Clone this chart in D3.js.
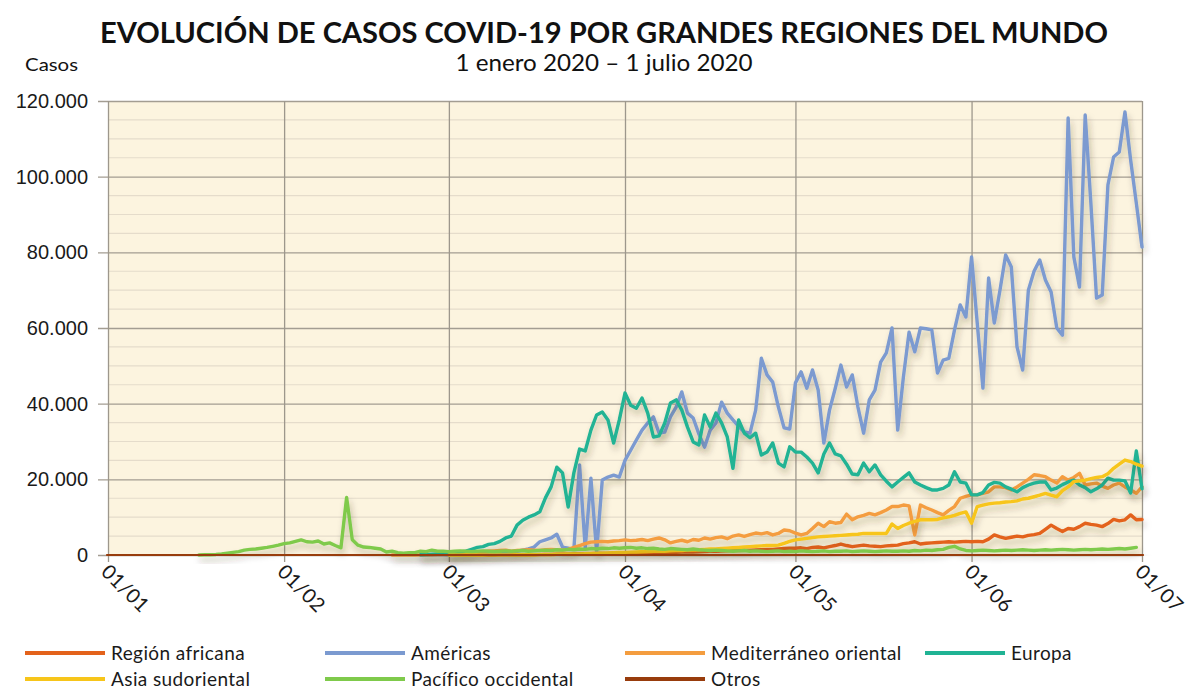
<!DOCTYPE html>
<html><head><meta charset="utf-8">
<script src="https://cdn.jsdelivr.net/npm/d3@7"></script>
<style>
body{margin:0;background:#fff}
svg{display:block;font-family:Lato,"Noto Sans",sans-serif}
</style>
</head><body>
<svg id="chart" width="1188" height="689"></svg>
<script>
// ---------------- DATA (daily new cases) ----------------
const titleText = "EVOLUCIÓN DE CASOS COVID-19 POR GRANDES REGIONES DEL MUNDO";
const subtitleText = "1 enero 2020 – 1 julio 2020";
const yAxisTitle = "Casos";
const xTickDates = ["2020-01-01","2020-02-01","2020-03-01","2020-04-01","2020-05-01","2020-06-01","2020-07-01"];
const xTickLabels = ["01/01","01/02","01/03","01/04","01/05","01/06","01/07"];
const yTicks = [0,20000,40000,60000,80000,100000,120000];
const yTickLabels = ["0","20.000","40.000","60.000","80.000","100.000","120.000"];

const seriesNames = ["Región africana","Américas","Mediterráneo oriental","Europa","Asia sudoriental","Pacífico occidental","Otros"];
const seriesColors = ["#e3621b","#7b9ad0","#f49d3f","#20b394","#f7c51a","#7fca4b","#983c0c"];

// each series: first date + daily values from that date to 1 July 2020
const africaStart = "2020-03-01";
const africa = [
 0,0,0,0,5,5,10,10,15,20,20,30,40,50,60,80,100,120,150,180,200,230,260,300,330,360,400,380,420,450,480,
 500,520,550,580,600,620,650,700,680,720,750,800,780,850,900,950,1000,1050,1100,1150,1200,1250,1300,1350,1400,1450,1500,1600,1700,1800,
 1800,1900,1700,2000,2100,1900,2200,2500,2900,2500,2200,2400,2600,2400,2300,2200,2400,2500,2600,3000,3200,3500,2900,3100,3200,3300,3400,3500,3400,3500,3600,
 3500,3600,3500,4200,5300,4800,4400,4700,5000,4800,5200,5400,5700,6800,7900,7000,6200,7000,6800,7500,8400,8100,7900,7500,8300,9400,9000,9300,10600,9300,
 9400];

const americasStart = "2020-02-25";
const americas = [
 5,10,10,20,30,
 10,20,30,50,80,100,150,200,300,450,600,850,1000,1300,1600,2100,3500,4000,4500,5500,2100,1800,1500,23800,1800,20300,800,19800,20600,21100,20600,
 25000,27700,30400,33000,34900,36500,32200,32500,36500,39100,43100,37500,36200,32000,28500,33000,34900,40400,37500,35700,34000,32500,32200,38300,52000,47600,45700,39100,33600,33300,
 45500,48400,44100,48900,43600,29600,38300,44000,50200,44400,47600,39100,32200,41000,43600,51000,53400,60000,33000,47000,58900,53700,60000,59800,59500,48100,51500,52000,59500,66100,62900,
 78800,61300,44100,73200,61300,70000,79300,76100,55000,48900,70000,75000,78000,72700,69500,60000,58100,115500,78800,70800,116300,93000,67900,68700,97800,105200,106500,117100,104400,93000,
 81400];

const medStart = "2020-02-20";
const med = [
 0,0,0,5,10,20,40,60,100,150,
 200,300,500,600,700,800,900,1000,1100,1200,1300,1000,1200,1300,1400,1300,1200,1400,1500,1400,1300,1500,2000,2500,3000,3400,3500,3600,3500,3700,3800,
 4000,3800,3900,4100,3800,4200,4500,4000,3200,3600,3900,3500,4100,3900,4500,4200,4600,4800,4300,5000,5300,4900,5400,5800,5600,5900,5300,5700,6600,6400,
 5800,5300,5700,7000,8400,7500,8800,8400,8600,10800,9300,10100,10500,11000,10600,11200,11900,12800,12800,13200,13000,5300,13200,12500,11900,11200,10600,11800,12800,15000,15500,
 15900,15900,16300,16700,18000,18000,17800,17200,18000,19000,20000,21200,21000,20700,19800,19000,20700,19800,20500,21600,18500,18800,19000,18200,17600,18500,19000,18000,17200,16300,
 18000];

const europeStart = "2020-02-25";
const europe = [
 50,100,200,300,400,
 500,600,800,1000,1500,2000,2200,2800,3000,3600,4500,5000,7900,9200,10000,10600,11400,15100,18000,23200,21700,12700,21700,28000,27500,33000,37000,37800,35700,29600,35700,
 42800,39600,38800,41500,37500,31200,31500,34900,40200,41000,38300,33800,29900,29100,37000,33800,37500,34900,31200,22900,35700,32200,31000,32200,26400,27200,29600,24300,23300,28600,
 27200,27200,25900,24300,21700,26700,29600,26700,26200,24000,21400,21200,24300,22000,23800,21200,19500,18000,19300,20500,21700,19300,18500,17800,17200,17200,17600,18500,22000,19300,19000,
 15900,15900,16500,18500,19200,19000,18000,17400,16700,17800,18500,19000,19300,19300,17200,17700,18600,19300,19800,18500,17800,16700,17500,18500,20300,19800,19800,19600,16400,27500,
 17500];

const asiaStart = "2020-03-01";
const asia = [
 0,0,5,5,10,10,15,20,20,30,30,40,50,60,70,80,100,120,150,180,200,250,300,300,350,400,450,500,550,600,650,
 700,750,800,850,900,950,1000,1000,1100,1200,1200,1300,1300,1400,1500,1600,1600,1700,1800,1900,2000,2100,2200,2300,2400,2500,2500,2600,3100,3600,
 4000,4200,4400,4600,4800,4900,5000,5100,5200,5300,5400,5500,5700,5700,5700,5700,5700,8200,7000,7800,8400,8900,9300,9300,9300,9400,9800,10100,10500,11000,11400,
 8400,12800,13200,13500,13700,13800,14000,14100,14300,14800,15000,15400,15800,16300,15800,15400,17000,18000,19400,19600,19800,20200,20500,20700,21500,22900,24000,25100,24700,24000,
 23500];

const pacificStart = "2020-01-17";
const pacific = [
 0,50,80,150,300,500,700,900,1300,1500,1600,1800,2000,2300,
 2600,3000,3200,3600,4000,3500,3400,3700,2900,3200,2500,1900,15200,4000,2600,2100,2000,1800,1600,800,1000,600,500,600,600,1000,900,1300,1000,
 1000,900,1000,1100,1000,900,1000,1100,1000,900,1000,1100,1000,1100,1200,1000,1100,1200,1300,1200,1400,1300,1500,1400,1600,1500,1700,1600,1800,1700,1900,
 1800,1900,2000,1800,1900,1700,1800,1600,1500,1700,1600,1500,1400,1600,1400,1300,1200,1300,1200,1100,1000,1100,1200,1000,1100,1000,900,1000,1100,900,
 1000,900,1100,1000,900,1000,1100,900,1000,1000,1100,900,1000,1100,1000,900,1000,1100,1000,1000,1100,1000,1200,1100,1300,1200,1400,1500,2000,2300,1600,
 1200,1100,1200,1300,1200,1100,1200,1300,1200,1300,1400,1300,1200,1300,1400,1300,1400,1500,1400,1300,1400,1500,1400,1500,1600,1500,1600,1700,1600,1800,
 2000];

const otrosStart = "2020-01-01";
const otros = [
 0,0,0,0,0,0,0,0,0,0,0,0,0,0,0,0,0,0,0,0,0,0,0,0,0,0,0,0,0,0,0,
 0,0,0,0,0,0,10,3,6,65,0,40,44,67,70,0,99,88,79,13,57,0,0,0,0,0,0,0,0,
 0,0,0,0,0,0,0,0,0,0,0,0,0,0,0,0,0,0,0,0,0,0,0,0,0,0,0,0,0,0,0,
 0,0,0,0,0,0,0,0,0,0,0,0,0,0,0,0,0,0,0,0,0,0,0,0,0,0,0,0,0,0,
 0,0,0,0,0,0,0,0,0,0,0,0,0,0,0,0,0,0,0,0,0,0,0,0,0,0,0,0,0,0,0,
 0,0,0,0,0,0,0,0,0,0,0,0,0,0,0,0,0,0,0,0,0,0,0,0,0,0,0,0,0,0,
 0];

const seriesStarts = [africaStart, americasStart, medStart, europeStart, asiaStart, pacificStart, otrosStart];
const seriesValues = [africa, americas, med, europe, asia, pacific, otros];

// ---------------- CHART ----------------
const svg = d3.select("#chart");
const M = {left: 108, right: 1142, top: 101, bottom: 555};
const parse = d3.utcParse("%Y-%m-%d");

const x = d3.scaleUtc()
  .domain([parse(xTickDates[0]), parse(xTickDates[xTickDates.length - 1])])
  .range([M.left, M.right]);
const y = d3.scaleLinear().domain([0, 120000]).range([M.bottom, M.top]);

const defs = svg.append("defs");
const f = defs.append("filter").attr("id", "shadow")
  .attr("x", "-5%").attr("y", "-5%").attr("width", "110%").attr("height", "120%");
f.append("feDropShadow").attr("dx", 2).attr("dy", 5).attr("stdDeviation", 3)
  .attr("flood-color", "#3a3020").attr("flood-opacity", 0.28);

// plot background
svg.append("rect").attr("x", M.left).attr("y", M.top)
  .attr("width", M.right - M.left).attr("height", M.bottom - M.top)
  .attr("fill", "#fcf4df");

// minor gridlines every 5000
const minorVals = d3.range(5000, 120000, 5000).filter(v => v % 20000 !== 0);
svg.append("g").selectAll("line").data(minorVals).join("line")
  .attr("x1", M.left).attr("x2", M.right)
  .attr("y1", d => y(d)).attr("y2", d => y(d))
  .attr("stroke", "#e5dccb").attr("stroke-width", 1.2);

// major gridlines (y axis grid)
const yAxis = d3.axisLeft(y).tickValues(yTicks)
  .tickFormat((d, i) => yTickLabels[i])
  .tickSize(-(M.right - M.left)).tickPadding(20);
const gy = svg.append("g").attr("transform", `translate(${M.left},0)`).call(yAxis);
gy.select(".domain").remove();
gy.selectAll(".tick line").attr("stroke", "#a39d92").attr("stroke-width", 1.3)
  .attr("x1", -10);
gy.selectAll(".tick text").attr("fill", "#1a1a1a").attr("font-size", 20)
  .attr("x", -20);

// vertical month gridlines
const xTickVals = xTickDates.map(parse);
const xAxis = d3.axisBottom(x).tickValues(xTickVals)
  .tickFormat(() => "").tickSize(-(M.bottom - M.top));
const gx = svg.append("g").attr("transform", `translate(0,${M.bottom})`).call(xAxis);
gx.select(".domain").remove();
gx.selectAll(".tick line").attr("stroke", "#9d978c").attr("stroke-width", 1.3).attr("y1", 7);

// rotated x labels
svg.append("g").selectAll("text").data(xTickVals).join("text")
  .attr("transform", d => `translate(${x(d) - 3},${M.bottom + 13}) rotate(45)`)
  .attr("font-size", 20).attr("fill", "#1a1a1a")
  .attr("dy", "0.35em")
  .attr("letter-spacing", 0.5)
  .text((d, i) => xTickLabels[i]);

// lines
const line = d3.line().x(d => x(d.date)).y(d => y(d.value));
const series = seriesNames.map((name, i) => {
  const s = parse(seriesStarts[i]);
  return {name, color: seriesColors[i],
    points: seriesValues[i].map((v, k) => ({date: d3.utcDay.offset(s, k), value: v}))};
});
const gl = svg.append("g");
series.forEach(s => {
  gl.append("path").datum(s.points)
    .attr("d", line)
    .attr("fill", "none")
    .attr("stroke", s.color)
    .attr("stroke-width", s.name === "Otros" ? 4 : 3.4)
    .attr("stroke-linejoin", "round")
    .attr("stroke-linecap", "round")
    .attr("filter", "url(#shadow)");
});

// titles
svg.append("text").attr("x", 604).attr("y", 43).attr("text-anchor", "middle")
  .attr("font-size", 28).attr("font-weight", 700).attr("fill", "#111")
  .attr("textLength", 1008).attr("lengthAdjust", "spacingAndGlyphs")
  .text(titleText);
svg.append("text").attr("x", 604).attr("y", 71).attr("text-anchor", "middle")
  .attr("font-size", 23).attr("fill", "#111")
  .attr("textLength", 297).attr("lengthAdjust", "spacingAndGlyphs")
  .text(subtitleText);
svg.append("text").attr("x", 25).attr("y", 71)
  .attr("font-size", 18).attr("fill", "#111")
  .attr("textLength", 53).attr("lengthAdjust", "spacingAndGlyphs")
  .text(yAxisTitle);

// legend
const legendPos = [[25,653],[325,653],[625,653],[925,653],[25,679],[325,679],[625,679]];
const lg = svg.append("g");
series.forEach((s, i) => {
  const [lx, ly] = legendPos[i];
  lg.append("line").attr("x1", lx).attr("x2", lx + 80).attr("y1", ly).attr("y2", ly)
    .attr("stroke", s.color).attr("stroke-width", 4);
  lg.append("text").attr("x", lx + 86).attr("y", ly).attr("dy", "0.35em")
    .attr("font-size", 19).attr("letter-spacing", 0.4).attr("fill", "#1a1a1a").text(s.name);
});
</script>
</body></html>
